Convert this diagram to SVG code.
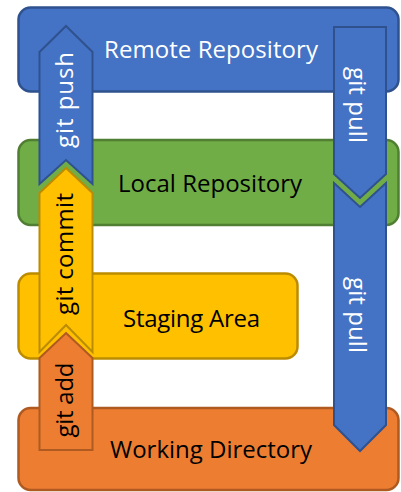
<svg xmlns="http://www.w3.org/2000/svg" width="401" height="492" viewBox="0 0 401 492">
  <style>
    .box { stroke-width: 2.5; }
    .blue { fill: #4472C4; stroke: #2F528F; }
    .green { fill: #70AD47; stroke: #507E32; }
    .yellow { fill: #FFC000; stroke: #BC8C00; }
    .orange { fill: #ED7D31; stroke: #AE5A21; }
    .arrow { stroke-width: 2; stroke-linejoin: miter; }
    .label { font-family: "Open Sans", "Liberation Sans", sans-serif; font-size: 24px; text-anchor: middle; }
    .light { fill: #FFFFFF; }
    .dark { fill: #000000; }
  </style>
  <rect width="401" height="492" fill="#FFFFFF"/>
  <g id="remote-repository">
    <rect class="box blue" x="18.5" y="7.5" width="380" height="84" rx="12" ry="12"/>
    <text class="label light" x="211" y="57.5" textLength="214">Remote Repository</text>
  </g>
  <g id="local-repository">
    <rect class="box green" x="18.5" y="140" width="380" height="85" rx="12" ry="12"/>
    <text class="label dark" x="210" y="191.5" textLength="184">Local Repository</text>
  </g>
  <g id="staging-area">
    <rect class="box yellow" x="18.5" y="273.5" width="279" height="85" rx="12" ry="12"/>
    <text class="label dark" x="191.5" y="326.5" textLength="137">Staging Area</text>
  </g>
  <g id="working-directory">
    <rect class="box orange" x="18.5" y="408" width="380" height="82" rx="12" ry="12"/>
    <text class="label dark" x="211" y="458" textLength="202">Working Directory</text>
  </g>
  <g id="connectors">
    <g id="git-push">
      <polygon class="arrow blue" points="66,26 92.5,52 92.5,184 66,160 39.5,184 39.5,52"/>
      <text class="label light" transform="translate(66,100) rotate(-90)" x="0" y="7" textLength="96">git push</text>
    </g>
    <g id="git-commit">
      <polygon class="arrow yellow" points="66,168 92.5,193 92.5,352 66,325 39.5,352 39.5,193"/>
      <text class="label dark" transform="translate(66,254) rotate(-90)" x="0" y="7" textLength="122">git commit</text>
    </g>
    <g id="git-add">
      <polygon class="arrow orange" points="66,333 92.5,358 92.5,450 39.5,450 39.5,358"/>
      <text class="label dark" transform="translate(66,400) rotate(-90)" x="0" y="7" textLength="75">git add</text>
    </g>
    <g id="git-pull-remote">
      <polygon class="arrow blue" points="334,27 386,27 386,174 360,198 334,174"/>
      <text class="label light" transform="translate(360,105) rotate(90)" x="0" y="11" textLength="76">git pull</text>
    </g>
    <g id="git-pull-local">
      <polygon class="arrow blue" points="334,183 360,207 386,183 386,425 360,451 334,425"/>
      <text class="label light" transform="translate(360,315) rotate(90)" x="0" y="11" textLength="76">git pull</text>
    </g>
  </g>
</svg>
